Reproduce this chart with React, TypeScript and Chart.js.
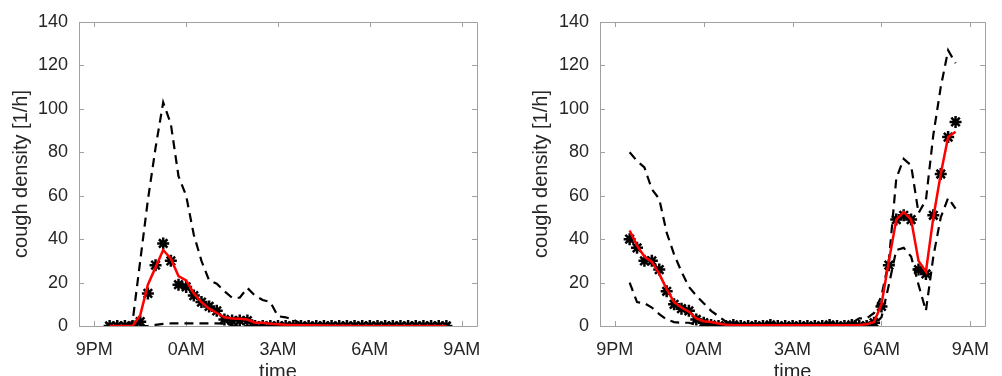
import React, { useEffect, useRef } from "react";
import { Chart, registerables } from "chart.js";

Chart.register(...registerables);

// hours after 9PM
const TIMES = [0.5, 0.75, 1, 1.25, 1.5, 1.75, 2, 2.25, 2.5, 2.75, 3, 3.25, 3.5, 3.75, 4, 4.25, 4.5, 4.75, 5, 5.25, 5.5, 5.75, 6, 6.25, 6.5, 6.75, 7, 7.25, 7.5, 7.75, 8, 8.25, 8.5, 8.75, 9, 9.25, 9.5, 9.75, 10, 10.25, 10.5, 10.75, 11, 11.25, 11.5];

const X_TICKS = [0, 3, 6, 9, 12];
const X_TICK_LABELS = ["9PM", "0AM", "3AM", "6AM", "9AM"];
const Y_TICKS = [0, 20, 40, 60, 80, 100, 120, 140];

const LEFT_STARS = [0, 0, 0, 0, 2, 15, 28, 38, 30, 19, 18, 14, 11, 9, 7, 3, 2.5, 2.5, 2.5, 0, 0, 0, 0, 0, 0, 0, 0, 0, 0, 0, 0, 0, 0, 0, 0, 0, 0, 0, 0, 0, 0, 0, 0, 0, 0];
const LEFT_MEAN = [0, 0, 0, 0, 5, 19, 27, 35, 31, 23, 21, 15, 11, 8, 6, 4, 3.5, 3.3, 3, 1.5, 1.5, 1, 0.8, 0.6, 0.5, 0.4, 0.3, 0.2, 0.2, 0.1, 0.1, 0.1, 0, 0, 0, 0, 0, 0, 0, 0, 0, 0, 0, 0, 0];
const LEFT_UPPER = [0, 0, 0, 2, 30, 58, 82, 103, 93, 69, 60, 42, 30, 21, 19.5, 16, 13, 13, 17.5, 14, 12, 11, 4.5, 4, 3, 1, 0, 0, 0, 0, 0, 0, 0, 0, 0, 0, 0, 0, 0, 0, 0, 0, 0, 0, 0];
const LEFT_LOWER = [0, 0, 0, 0, 0, 0, 0.5, 1, 1.2, 1.2, 1.2, 1.2, 1.2, 1.2, 1.2, 1, 0.3, 0, 0, 0, 0, 0, 0, 0, 0, 0, 0, 0, 0, 0, 0, 0, 0, 0, 0, 0, 0, 0, 0, 0, 0, 0, 0, 0, 0];

const RIGHT_STARS = [40, 36, 30, 30, 26, 16, 10, 8, 7, 3, 1.5, 0.5, 0, 0, 0.5, 0, 0, 0, 0, 0.5, 0, 0, 0, 0, 0, 0, 0, 0.5, 0, 0, 0.5, 0, 0, 1.5, 9, 28, 49, 51, 49, 26, 24, 51, 70, 87, 94];
const RIGHT_MEAN = [44, 37, 32, 29.5, 24, 17, 11, 8.5, 6.6, 3.5, 2.2, 1.8, 1.2, 0.6, 0.4, 0.3, 0.3, 0.3, 0.3, 0.3, 0.3, 0.3, 0.3, 0.3, 0.3, 0.3, 0.3, 0.3, 0.3, 0.3, 0.4, 0.5, 0.8, 1.8, 10, 30, 49, 52.5, 49, 30, 25, 50, 70, 87, 89.5];
const RIGHT_UPPER = [80, 76, 73, 63, 58.5, 43, 33, 25, 18, 14, 10.5, 7, 4.5, 2, 0.8, 0.5, 0.5, 0.5, 0.5, 1, 0.5, 0.5, 0.5, 0.5, 0.5, 0.5, 0.5, 1, 0.5, 0.5, 1.5, 3.5, 3.5, 6, 14, 30, 68, 77, 74, 52, 58, 88, 110, 127, 121];
const RIGHT_LOWER = [20, 11, 10.5, 8.5, 5.5, 3, 1.8, 1.5, 1.5, 0.5, 0, 0, 0, 0, 0, 0, 0, 0, 0, 0, 0, 0, 0, 0, 0, 0, 0, 0, 0, 0, 0, 0, 0, 0.5, 4, 19, 35, 36, 32, 19, 7, 32, 50, 59, 54];

const FONT = "'Liberation Sans', Arial, Helvetica, sans-serif";
const TEXT = "#262626";
const AXIS = "#a0a0a0";

const boxPlugin = {
  id: "matlabBox",
  beforeDatasetsDraw(chart: any) {
    const { ctx, chartArea: a, scales } = chart;
    ctx.save();
    ctx.strokeStyle = AXIS;
    ctx.lineWidth = 1;
    ctx.beginPath();
    ctx.rect(Math.round(a.left) + 0.5, Math.round(a.top) + 0.5, Math.round(a.right - a.left), Math.round(a.bottom - a.top));
    const tl = 5;
    X_TICKS.forEach((v) => {
      const x = Math.round(scales.x.getPixelForValue(v)) + 0.5;
      ctx.moveTo(x, a.bottom);
      ctx.lineTo(x, a.bottom - tl);
      ctx.moveTo(x, a.top);
      ctx.lineTo(x, a.top + tl);
    });
    Y_TICKS.forEach((v) => {
      const y = Math.round(scales.y.getPixelForValue(v)) + 0.5;
      ctx.moveTo(a.left, y);
      ctx.lineTo(a.left + tl, y);
      ctx.moveTo(a.right, y);
      ctx.lineTo(a.right - tl, y);
    });
    ctx.stroke();
    ctx.restore();
  },
};

function pts(vals: number[]) {
  return TIMES.map((t, i) => ({ x: t, y: vals[i] }));
}

type PanelProps = {
  left: number;
  width: number;
  padLeft: number;
  yWidth: number;
  padRight: number;
  stars: number[];
  mean: number[];
  upper: number[];
  lower: number[];
};

const CANVAS_H = 384;
const AREA_TOP = 22;
const AREA_BOTTOM = 326;

function Panel(p: PanelProps) {
  const ref = useRef<HTMLCanvasElement | null>(null);
  useEffect(() => {
    if (!ref.current) return;
    const dashed = {
      borderColor: "#000000",
      borderWidth: 2.2,
      borderDash: [9, 6],
      pointRadius: 0,
      tension: 0,
      fill: false,
    };
    const chart = new Chart(ref.current, {
      type: "scatter",
      data: {
        datasets: [
          {
            label: "stars",
            data: pts(p.stars),
            showLine: false,
            pointStyle: "star",
            pointRadius: 6,
            pointBorderWidth: 2.5,
            pointBorderColor: "#000000",
            pointBackgroundColor: "#000000",
            order: 3,
          } as any,
          { label: "upper", data: pts(p.upper), showLine: true, order: 2, ...dashed } as any,
          { label: "lower", data: pts(p.lower), showLine: true, order: 2, ...dashed } as any,
          {
            label: "mean",
            data: pts(p.mean),
            showLine: true,
            borderColor: "#ff0000",
            borderWidth: 2.5,
            pointRadius: 0,
            tension: 0,
            order: 1,
          } as any,
        ],
      },
      options: {
        animation: false,
        responsive: false,
        maintainAspectRatio: false,
        layout: { padding: { left: p.padLeft, right: p.padRight, top: AREA_TOP, bottom: 0 } },
        plugins: { legend: { display: false }, tooltip: { enabled: false } },
        scales: {
          x: {
            type: "linear",
            min: -0.5,
            max: 12.5,
            grid: { display: false, drawTicks: false },
            border: { display: false },
            afterBuildTicks: (s: any) => {
              s.ticks = X_TICKS.map((v) => ({ value: v }));
            },
            afterFit: (s: any) => {
              s.height = CANVAS_H - AREA_BOTTOM;
            },
            ticks: {
              padding: 12.8,
              color: TEXT,
              font: { family: FONT, size: 18 },
              maxRotation: 0,
              autoSkip: false,
              callback: (v: any) => {
                const i = X_TICKS.indexOf(Number(v));
                return i >= 0 ? X_TICK_LABELS[i] : "";
              },
            },
            title: {
              display: true,
              text: "time",
              color: TEXT,
              font: { family: FONT, size: 20 },
              padding: { top: 0, bottom: 0 },
            },
          },
          y: {
            type: "linear",
            min: 0,
            max: 140,
            grid: { display: false, drawTicks: false },
            border: { display: false },
            afterBuildTicks: (s: any) => {
              s.ticks = Y_TICKS.map((v) => ({ value: v }));
            },
            afterFit: (s: any) => {
              s.width = p.yWidth;
            },
            ticks: {
              padding: 11,
              color: TEXT,
              font: { family: FONT, size: 18 },
              autoSkip: false,
            },
            title: {
              display: true,
              text: "cough density [1/h]",
              color: TEXT,
              font: { family: FONT, size: 20 },
              padding: { top: 9.7, bottom: 0 },
            },
          },
        },
      },
      plugins: [boxPlugin],
    });
    return () => chart.destroy();
  }, []);
  return (
    <canvas
      ref={ref}
      width={p.width}
      height={CANVAS_H}
      style={{ position: "absolute", left: p.left, top: 0, width: p.width, height: CANVAS_H }}
    />
  );
}

export default function App() {
  return (
    <div
      style={{
        position: "fixed",
        left: 0,
        top: 0,
        width: 1002,
        height: 376,
        overflow: "hidden",
        background: "#ffffff",
      }}
    >
      <Panel left={0} width={500} padLeft={0} yWidth={79} padRight={23} stars={LEFT_STARS} mean={LEFT_MEAN} upper={LEFT_UPPER} lower={LEFT_LOWER} />
      <Panel left={500} width={502} padLeft={20} yWidth={80} padRight={5} stars={RIGHT_STARS} mean={RIGHT_MEAN} upper={RIGHT_UPPER} lower={RIGHT_LOWER} />
    </div>
  );
}
